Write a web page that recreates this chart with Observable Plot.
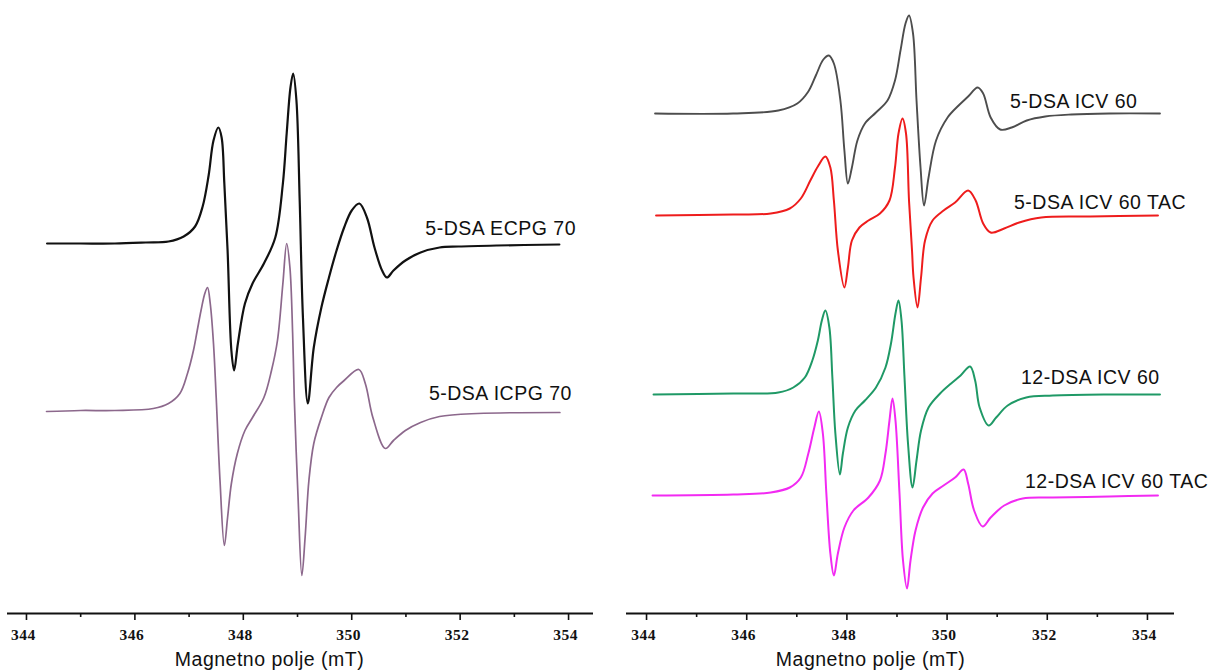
<!DOCTYPE html>
<html><head><meta charset="utf-8">
<script src="https://cdn.jsdelivr.net/npm/d3@7"></script>
<script src="https://cdn.jsdelivr.net/npm/@observablehq/plot@0.6"></script>
<style>
html,body{margin:0;padding:0;background:#fff;}
#wrap{display:flex;width:1210px;height:671px;overflow:hidden;}
#wrap svg{display:block;flex:none;}
#wrap svg g[aria-label="text"]{letter-spacing:0.5px;}
</style></head><body><div id="wrap"></div>
<script>
// Field values (mT) and signal (arbitrary units, stacked)
const axisTitle = "Magnetno polje (mT)";
const majorTicks = [344, 346, 348, 350, 352, 354];
const minorTicks = [345, 347, 349, 351, 353];
const leftNames = ["5-DSA ECPG 70", "5-DSA ICPG 70"];
const rightNames = ["5-DSA ICV 60", "5-DSA ICV 60 TAC", "12-DSA ICV 60", "12-DSA ICV 60 TAC"];

const ecpg70 = [
  [344.38,370],[345.00,370],[345.63,370],[346.20,371],[346.62,372],[346.90,377],[347.11,387],
  [347.25,407],[347.36,438],[347.45,473],[347.54,486],[347.60,476],[347.65,430],[347.71,363],
  [347.78,263],[347.83,243],[347.90,270],[348.03,310],[348.17,330],[348.38,350],[348.59,376],
  [348.73,430],[348.80,480],[348.87,526],[348.92,540],[348.98,513],[349.04,413],[349.10,296],
  [349.19,210],[349.30,266],[349.44,306],[349.58,336],[349.72,363],[349.86,386],[350.00,403],
  [350.14,410],[350.28,396],[350.42,366],[350.56,343],[350.65,336],[350.77,343],[350.99,353],
  [351.27,361],[351.62,366],[351.97,367],[352.68,368],[353.83,369]
];
const icpg70 = [
  [344.37,202],[345.00,203],[345.63,203],[346.34,205],[346.62,210],[346.83,220],[346.97,240],
  [347.08,263],[347.15,283],[347.22,303],[347.29,320],[347.34,326],[347.39,310],[347.45,270],[347.50,216],
  [347.57,133],[347.65,68],[347.71,96],[347.78,130],[347.89,160],[348.03,183],[348.17,196],
  [348.38,216],[348.52,243],[348.63,273],[348.73,330],[348.80,370],[348.86,346],[348.91,280],
  [348.94,216],[349.01,116],[349.08,38],[349.14,76],[349.21,133],[349.30,170],[349.44,196],
  [349.58,216],[349.72,226],[349.86,233],[350.13,244],[350.25,230],[350.39,196],[350.62,165],
  [350.77,173],[350.99,183],[351.27,191],[351.62,197],[352.32,200],[353.84,201]
];
const icv60 = [
  [344.17,500],[345.73,500],[346.63,503],[347.01,510],[347.23,522],[347.38,538],[347.53,554],
  [347.64,558],[347.74,550],[347.87,513],[347.95,463],[348.02,430],[348.10,446],[348.21,473],
  [348.36,490],[348.58,501],[348.81,513],[348.96,533],[349.07,563],[349.17,590],[349.24,598],
  [349.32,580],[349.39,513],[349.47,446],[349.54,408],[349.63,436],[349.78,473],[350.01,496],
  [350.23,508],[350.42,517],[350.61,526],[350.72,520],[350.87,496],[351.06,484],[351.29,486],
  [351.59,493],[351.96,497],[352.48,499],[353.24,500],[354.25,500]
];
const icv60tac = [
  [344.19,398],[345.73,399],[346.48,400],[346.86,405],[347.08,415],[347.27,433],[347.42,447],
  [347.57,457],[347.67,446],[347.74,413],[347.82,363],[347.95,326],[348.02,346],[348.10,373],
  [348.25,386],[348.43,393],[348.66,400],[348.85,413],[348.96,446],[349.03,480],[349.11,495],
  [349.18,480],[349.24,413],[349.30,363],[349.33,336],[349.41,306],[349.48,336],[349.56,373],
  [349.71,393],[349.93,403],[350.16,411],[350.42,423],[350.57,413],[350.72,390],[350.87,381],
  [351.14,385],[351.44,391],[351.88,396],[352.86,397],[354.21,398]
];
const dsa12icv60 = [
  [344.14,219],[345.73,220],[346.63,221],[346.93,226],[347.16,236],[347.31,253],[347.42,273],
  [347.50,293],[347.57,303],[347.65,286],[347.71,236],[347.77,180],[347.86,139],[347.92,160],
  [348.02,186],[348.17,203],[348.36,213],[348.58,226],[348.77,246],[348.88,270],[348.97,300],
  [349.03,313],[349.09,293],[349.15,236],[349.22,170],[349.31,126],[349.39,153],[349.48,183],
  [349.63,206],[349.86,220],[350.08,230],[350.27,238],[350.46,247],[350.56,233],[350.65,206],
  [350.83,188],[350.98,196],[351.21,208],[351.58,216],[352.11,218],[353.24,219],[354.25,219]
];
const dsa12icv60tac = [
  [344.12,118],[345.73,119],[346.48,121],[346.86,126],[347.08,136],[347.23,160],[347.35,186],
  [347.44,202],[347.52,180],[347.59,120],[347.67,60],[347.74,38],[347.82,60],[347.95,86],
  [348.13,103],[348.43,116],[348.66,133],[348.77,160],[348.85,193],[348.91,215],[348.97,193],
  [349.05,120],[349.12,53],[349.20,25],[349.27,53],[349.37,83],[349.52,106],[349.71,120],
  [349.93,128],[350.16,136],[350.33,144],[350.42,130],[350.54,103],[350.71,87],[350.87,96],
  [351.14,108],[351.51,115],[352.11,116],[353.24,117],[354.21,118]
];

const sans = "'Liberation Sans', Arial, sans-serif";
const serif = "'Liberation Serif', 'Times New Roman', serif";

function panel({width, marginLeft, marginRight, domain, series, titleDx}) {
  return Plot.plot({
    width, height: 671, marginTop: 0, marginBottom: 58, marginLeft, marginRight,
    x: {domain, axis: null},
    y: {domain: [0, 613], axis: null},
    style: {background: "white", fontFamily: sans, overflow: "visible", color: "#111"},
    marks: [
      Plot.ruleY([0], {stroke: "#111", strokeWidth: 2}),
      Plot.axisX({ticks: majorTicks, tickSize: 7, tickFormat: () => "", strokeWidth: 1.6, label: null, stroke: "#111"}),
      Plot.axisX({ticks: minorTicks, tickSize: 4, tickFormat: () => "", strokeWidth: 1.6, label: null, stroke: "#111"}),
      Plot.text(majorTicks, {x: d => d, text: d => String(d), frameAnchor: "bottom", lineAnchor: "middle", dy: 22, dx: -3,
        fontSize: 15.5, fontWeight: "bold", fontFamily: serif, fill: "#111"}),
      ...series.map(s => Plot.line(s.data, {x: d => d[0], y: d => d[1], stroke: s.color, strokeWidth: s.width, curve: "catmull-rom"})),
      ...series.map(s => Plot.text(s.data, Plot.selectLast({x: d => d[0], y: d => d[1], text: () => s.name, textAnchor: "start",
        dx: s.dx, dy: s.dy, fontSize: 19.5, fill: "#111"}))),
      Plot.text([axisTitle], {text: d => d, frameAnchor: "bottom", lineAnchor: "bottom", dx: titleDx, dy: 52, fontSize: 19.5, fill: "#111"})
    ]
  });
}

const left = panel({
  width: 605, marginLeft: 7, marginRight: 12, domain: [343.65, 354.46], titleDx: -31,
  series: [
    {name: leftNames[0], data: ecpg70, color: "#111111", width: 2.2, dx: -134, dy: -16},
    {name: leftNames[1], data: icpg70, color: "#8c688c", width: 1.7, dx: -131, dy: -19}
  ]
});
const right = panel({
  width: 605, marginLeft: 21, marginRight: 36, domain: [343.6, 354.54], titleDx: -30,
  series: [
    {name: rightNames[0], data: icv60, color: "#4d4d4d", width: 1.9, dx: -150, dy: -12},
    {name: rightNames[1], data: icv60tac, color: "#ee1c1c", width: 2, dx: -144, dy: -13},
    {name: rightNames[2], data: dsa12icv60, color: "#1f9966", width: 2, dx: -139, dy: -17},
    {name: rightNames[3], data: dsa12icv60tac, color: "#f22af2", width: 2, dx: -133, dy: -14}
  ]
});
document.getElementById("wrap").append(left, right);
</script></body></html>
